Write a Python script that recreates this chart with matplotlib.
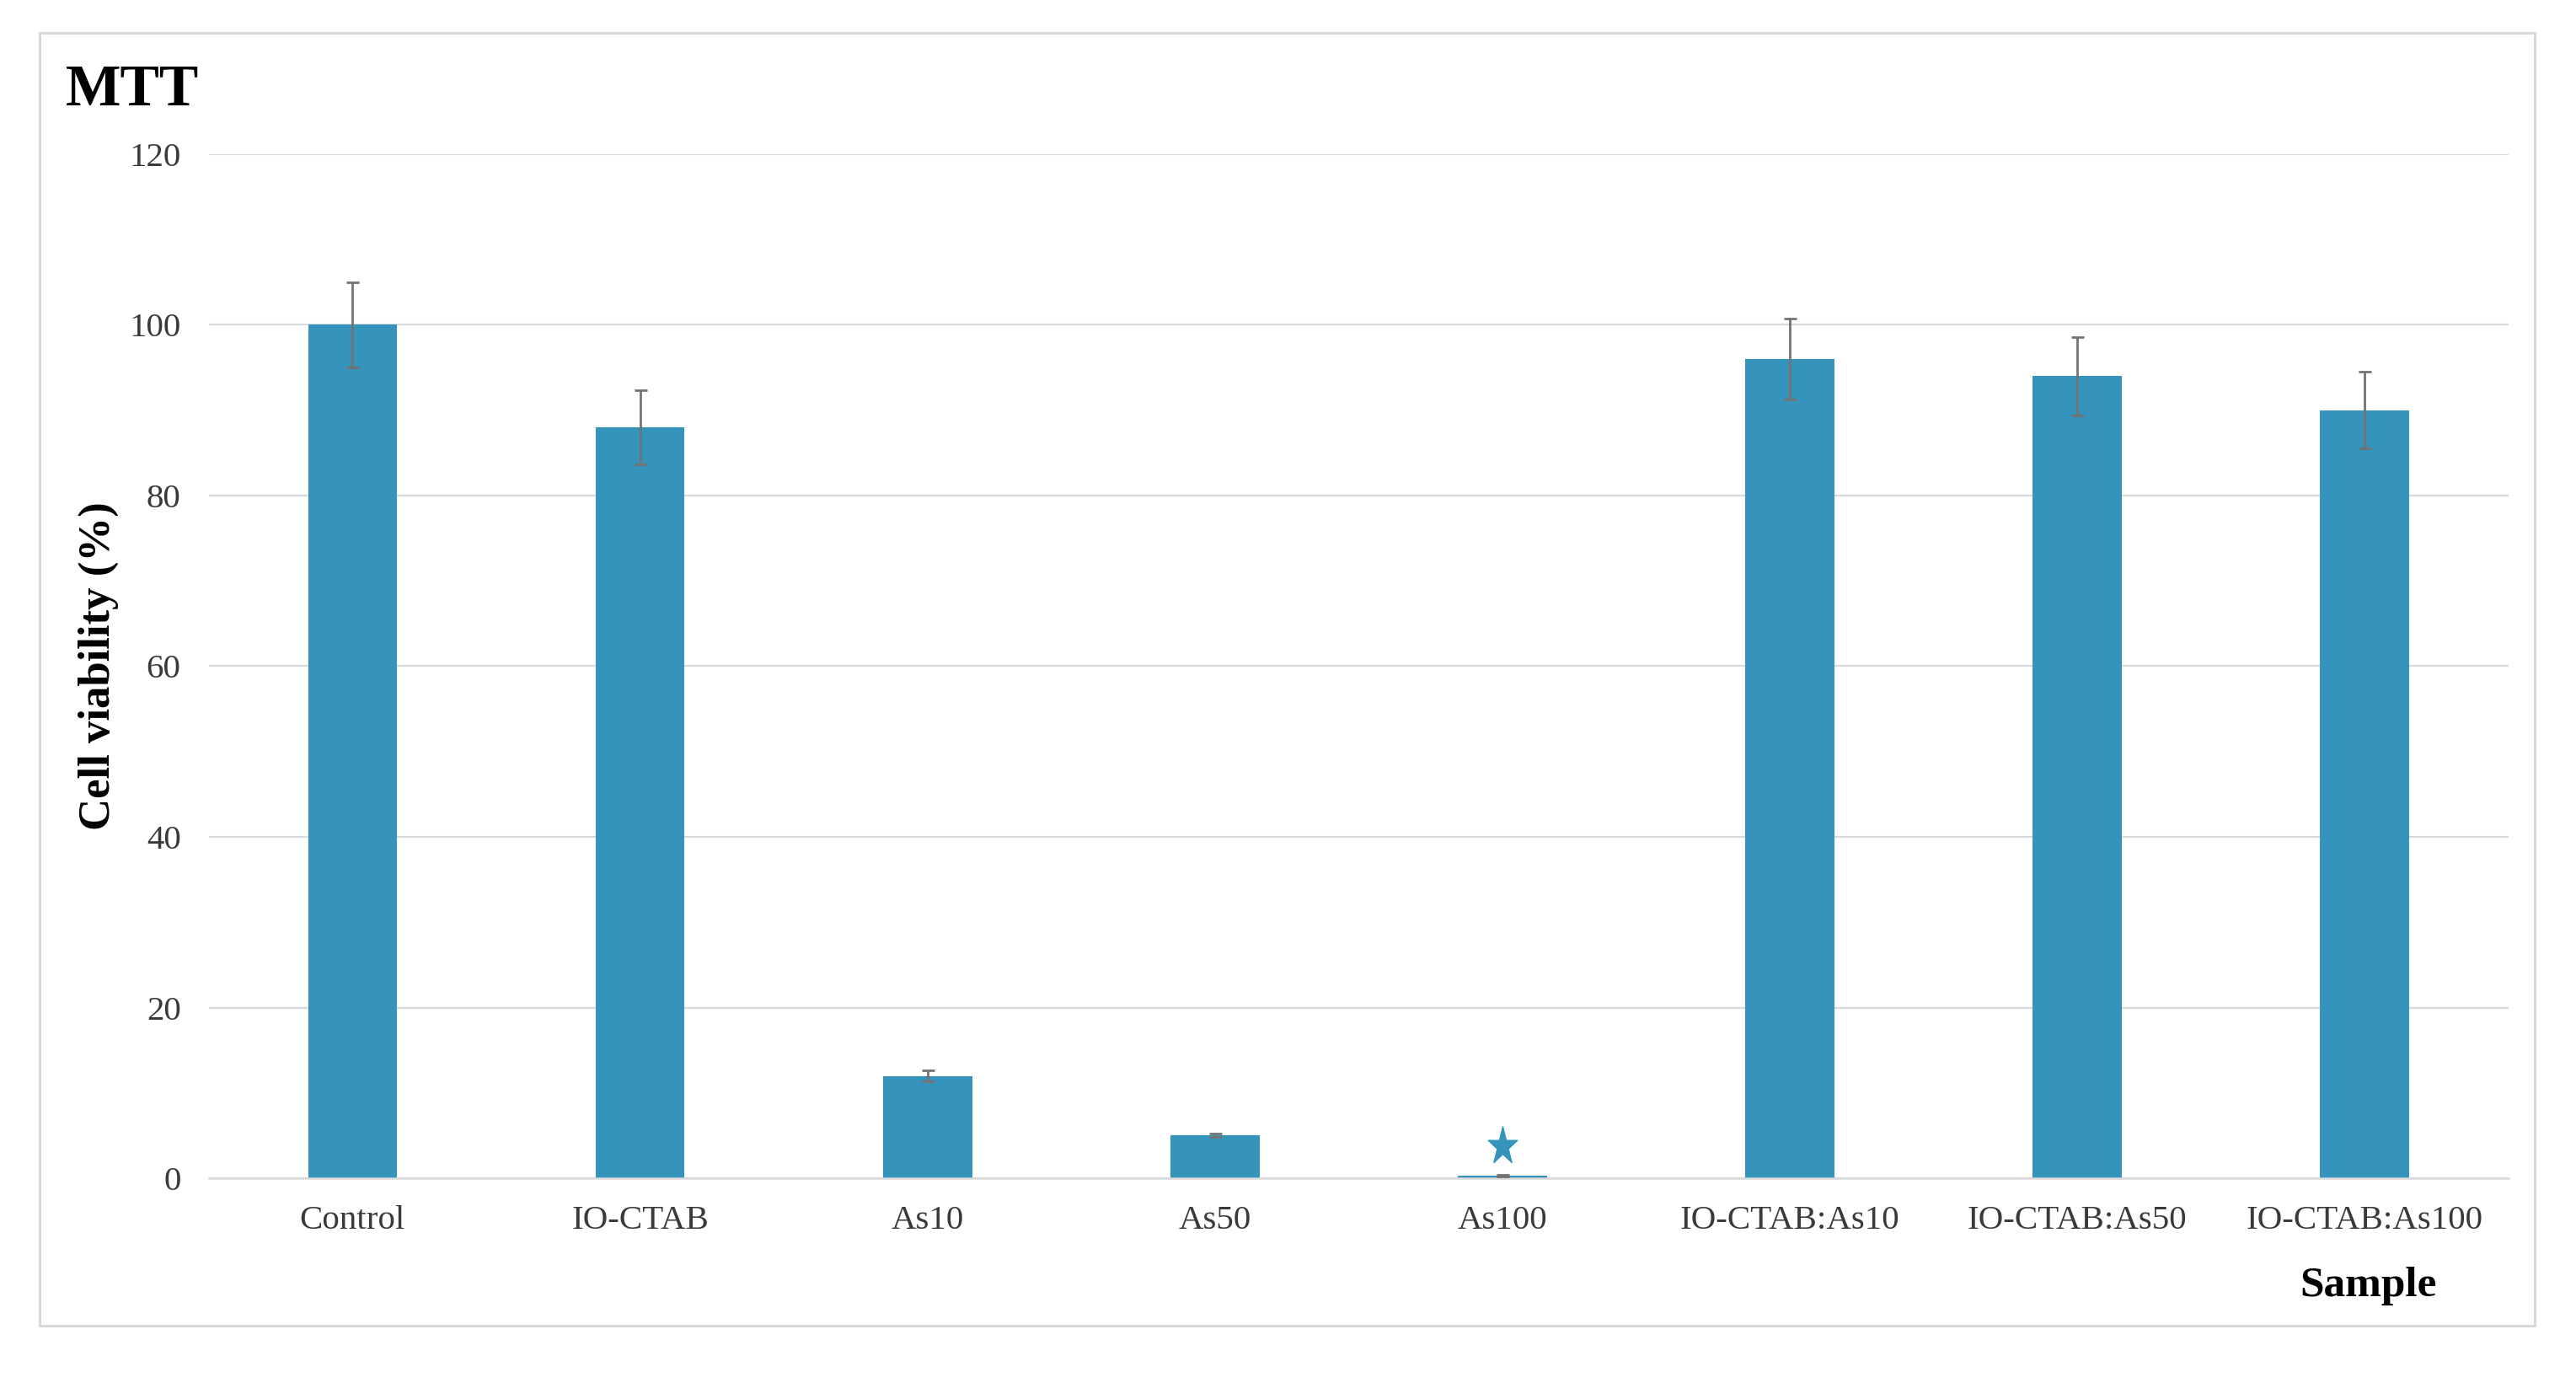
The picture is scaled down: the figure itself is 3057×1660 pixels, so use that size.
import matplotlib.pyplot as plt
import numpy as np
from matplotlib.patches import Rectangle
from matplotlib.path import Path

samples = ["Control", "IO-CTAB", "As10", "As50", "As100",
           "IO-CTAB:As10", "IO-CTAB:As50", "IO-CTAB:As100"]
viability = [100, 88, 12, 5, 0.3, 96, 94, 90]
viability_err = [5.0, 4.3, 0.6, 0.2, 0.1, 4.7, 4.6, 4.5]
star_sample = "As100"
star_value = 3.8
y_ticks = [0, 20, 40, 60, 80, 100, 120]

bar_color = "#3594bb"
grid_color = "#d9d9d9"

plt.rcParams["font.family"] = ["Liberation Serif", "DejaVu Serif"]

fig = plt.figure(figsize=(30.57, 16.6), dpi=100)
ax = fig.add_axes([0.0811, 0.1578, 0.8927, 0.732])

x = np.arange(len(samples))
ax.bar(x, viability, width=0.31, color=bar_color, zorder=2)
ax.errorbar(x, viability, yerr=viability_err, fmt="none", ecolor="#737373",
            elinewidth=2.0, capsize=5.4, capthick=2.0, zorder=3)

# significance star above As100, slightly taller than wide like in the figure
star = Path.unit_regular_star(5, 0.381966)
star_verts = star.vertices * np.array([1.0, 1.3])
star_marker = Path(star_verts, star.codes)
ax.plot(samples.index(star_sample), star_value, marker=star_marker,
        markersize=34, color=bar_color, linestyle="none", zorder=4)

ax.set_xlim(-0.5, len(samples) - 0.5)
ax.set_ylim(0, 120)
ax.set_yticks(y_ticks)
ax.set_xticks(x)
ax.set_xticklabels(samples)
ax.yaxis.grid(True, color=grid_color, linewidth=1.6, zorder=0)
ax.set_axisbelow(True)
for side in ["top", "right", "left"]:
    ax.spines[side].set_visible(False)
ax.spines["bottom"].set_color(grid_color)
ax.spines["bottom"].set_linewidth(1.8)
ax.tick_params(axis="both", length=0, labelsize=29.5, labelcolor="#3a3a3a")
ax.tick_params(axis="x", pad=23)
ax.tick_params(axis="y", pad=24)

ax.set_ylabel("Cell viability (%)", fontsize=38, fontweight="bold")
ax.yaxis.set_label_coords(-0.039, 0.5)
ax.text(0.939, -0.105, "Sample", transform=ax.transAxes, ha="center",
        va="center", fontsize=37, fontweight="bold")

fig.text(0.0255, 0.935, "MTT", ha="left", va="center", fontsize=50,
         fontweight="bold")

fig.patches.append(Rectangle((0.01537, 0.0524), 0.9686, 0.9241,
                             transform=fig.transFigure, fill=False,
                             edgecolor=grid_color, linewidth=2.2))

fig.savefig("out.png", dpi=100, facecolor="white")
